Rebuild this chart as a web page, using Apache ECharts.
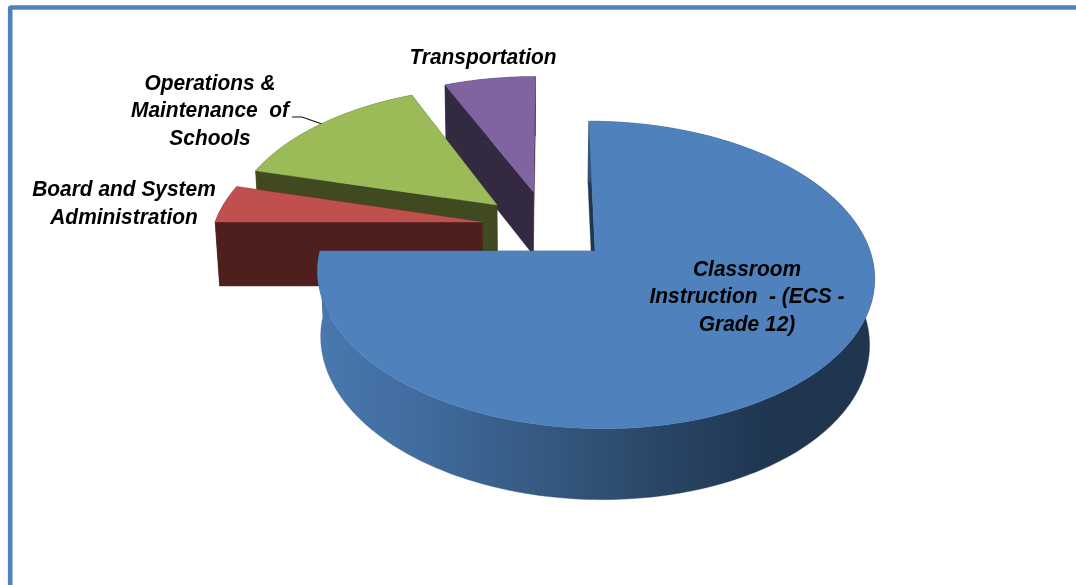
<!DOCTYPE html>
<html>
<head>
<meta charset="utf-8">
<style>html,body{margin:0;padding:0;background:#fff;overflow:hidden}#c{width:1076px;height:585px}</style>
<script src="https://cdn.jsdelivr.net/npm/echarts@6/dist/echarts.min.js"></script>
</head>
<body>
<div id="c"></div>
<script>
// ---- data ----
const categories = ['Classroom Instruction - (ECS - Grade 12)', 'Board and System Administration', 'Operations & Maintenance of Schools', 'Transportation'];
const values = [75, 4.2, 14.3, 6.5];
const labelLines = ['Classroom\nInstruction  - (ECS -\nGrade 12)', 'Board and System\nAdministration', 'Operations &\nMaintenance  of\nSchools', 'Transportation'];

// ---- layout / style ----
const explode = [[0, 0], [-0.419, 0.199], [-0.366, 0.322], [-0.228, 0.42]];
const labelPos = [[747, 297], [124, 204], [210, 111], [483, 58]];
const topColors = ['#4f81bd', '#c0504d', '#9bbb59', '#8064a2'];
const wallColors = ['#1f3550', '#4f1f1e', '#40491f', '#332941'];
const topPlane = { x: 595, y: 251, a: 275, b: 150, s: -7, p: 0.156 };
const basePlane = { x: 594, y: 316, a: 271, b: 155, s: -7, p: 0.156 };
const total = values.reduce((a, b) => a + b, 0);

function project(pl, u, v) {
  const d = 1 + pl.p * v;
  return [pl.x + (pl.a * u + pl.s * v) / d, pl.y - pl.b * v / d];
}
function rim(pl, off, a0, a1) {
  const pts = [];
  const n = Math.max(8, Math.ceil((a1 - a0) / 0.03));
  for (let i = 0; i <= n; i++) {
    const t = a0 + (a1 - a0) * i / n;
    pts.push(project(pl, off[0] + Math.sin(t), off[1] + Math.cos(t)));
  }
  return pts;
}
function sliceAngles(idx) {
  let sum = 0;
  for (let i = 0; i < idx; i++) sum += values[i];
  return [sum / total * 2 * Math.PI, (sum + values[idx]) / total * 2 * Math.PI];
}

function renderItem(params, api) {
  const idx = values.length - 1 - params.dataIndex; // back slices are drawn first
  api.value(0);
  const [a0, a1] = sliceAngles(idx);
  const off = explode[idx];
  const wall = wallColors[idx];
  const topApex = project(topPlane, off[0], off[1]);
  const baseApex = project(basePlane, off[0], off[1]);
  const topRim = rim(topPlane, off, a0, a1);
  const baseRim = rim(basePlane, off, a0, a1);
  const last = topRim.length - 1;
  const poly = (points, fill) => ({ type: 'polygon', shape: { points }, style: { fill, stroke: fill, lineWidth: 0.4 } });
  const arcFill = idx === 0
    ? new echarts.graphic.LinearGradient(0, 0, 1, 0, [
        { offset: 0, color: '#4a78ae' },
        { offset: 0.2, color: '#3f6a9c' },
        { offset: 0.42, color: '#34587f' },
        { offset: 0.62, color: '#294565' },
        { offset: 0.82, color: '#1f3550' },
        { offset: 1, color: '#1f3550' }
      ])
    : wall;
  const children = [
    poly([topApex, topRim[0], baseRim[0], baseApex], wall),
    poly([topApex, topRim[last], baseRim[last], baseApex], wall),
    poly(topRim.concat(baseRim.slice().reverse()), arcFill),
    poly([topApex].concat(topRim), topColors[idx]),
    {
      type: 'text',
      x: labelPos[idx][0],
      y: labelPos[idx][1],
      scaleX: 0.95,
      style: {
        text: labelLines[idx],
        x: 0,
        y: 0,
        align: 'center',
        verticalAlign: 'middle',
        lineHeight: 27.5,
        fill: '#000',
        font: 'italic bold 22px "Liberation Sans", Arial, sans-serif'
      }
    }
  ];
  return { type: 'group', children };
}

const chart = echarts.init(document.getElementById('c'));
chart.setOption({
  animation: false,
  backgroundColor: '#fff',
  graphic: [
    { type: 'rect', z: 0, shape: { x: 10.2, y: 7.5, width: 1300, height: 900, r: 1 }, style: { fill: 'none', stroke: '#4f81bd', lineWidth: 4.6 } },
    { type: 'polyline', z: 0, shape: { points: [[292, 117], [302, 117], [322, 124]] }, style: { fill: 'none', stroke: '#111', lineWidth: 1.2 } }
  ],
  series: [{
    type: 'custom',
    coordinateSystem: 'none',
    renderItem,
    data: values.slice().reverse().map((v, i) => ({ name: categories[values.length - 1 - i], value: [v] }))
  }]
});
</script>
</body>
</html>
